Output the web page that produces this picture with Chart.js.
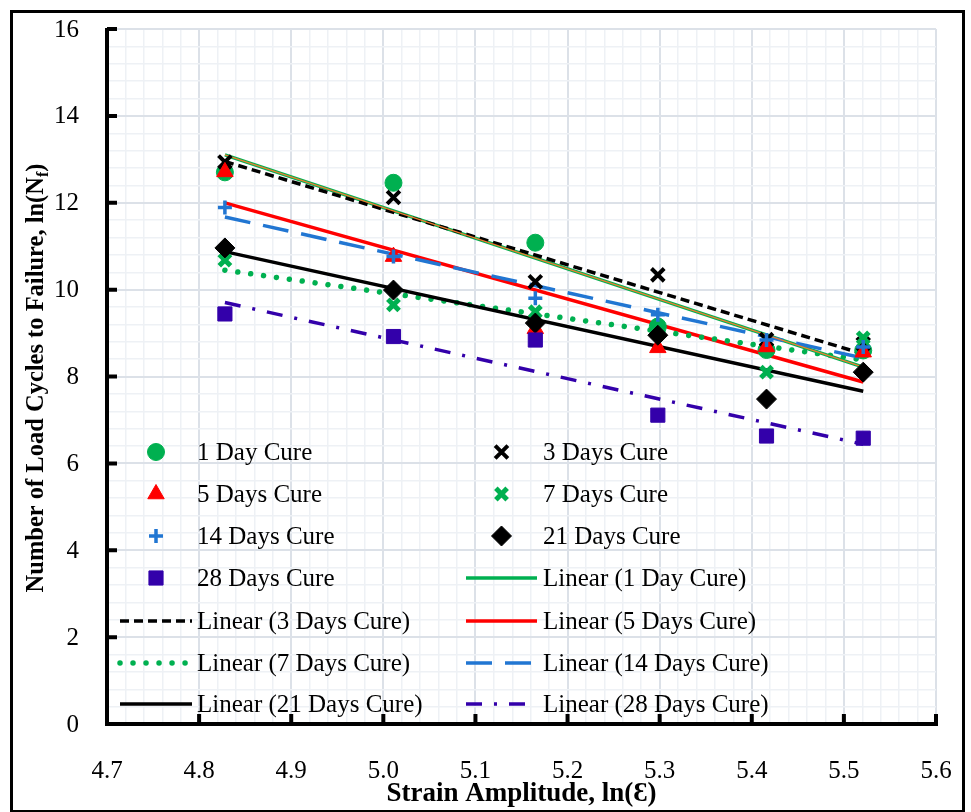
<!DOCTYPE html>
<html>
<head>
<meta charset="utf-8">
<script src="https://cdn.jsdelivr.net/npm/chart.js@4.4.0/dist/chart.umd.min.js"></script>
<style>
  html, body { margin: 0; padding: 0; background: #fff; }
  canvas { display: block; }
</style>
</head>
<body>
<canvas id="fatigue-chart" width="971" height="812"></canvas>
<script>
// ===== Data =====
const strainLn = [4.828, 5.011, 5.165, 5.298, 5.416, 5.521];
const cure1Day  = [12.70, 12.46, 11.08, 9.15, 8.61, 8.60];
const cure3Day  = [12.94, 12.12, 10.18, 10.34, 8.85, 8.75];
const cure5Day  = [12.71, 10.76, 9.10, 8.66, 8.68, 8.56];
const cure7Day  = [10.68, 9.65, 9.49, 9.10, 8.10, 8.89];
const cure14Day = [11.89, 10.76, 9.80, 9.42, 8.84, 8.68];
const cure21Day = [10.96, 9.99, 9.23, 8.95, 7.48, 8.10];
const cure28Day = [9.44, 8.92, 8.84, 7.11, 6.63, 6.58];

const seriesNames = ["1 Day Cure", "3 Days Cure", "5 Days Cure", "7 Days Cure",
                     "14 Days Cure", "21 Days Cure", "28 Days Cure"];
const seriesValues = [cure1Day, cure3Day, cure5Day, cure7Day, cure14Day, cure21Day, cure28Day];

const xTickLabels = [4.7, 4.8, 4.9, 5.0, 5.1, 5.2, 5.3, 5.4, 5.5, 5.6];
const yTickLabels = [0, 2, 4, 6, 8, 10, 12, 14, 16];

// ===== Styles =====
const GREEN = "#00B050", RED = "#FF0000", BLUE = "#2176D2", PURPLE = "#3300AA";
const SERIF = "'Liberation Serif', 'DejaVu Serif', serif";

const markerStyles = [
  { pointStyle: "circle",   radius: 8.5, color: GREEN, borderWidth: 1 },
  { pointStyle: "crossRot", radius: 9,   color: "#000", borderWidth: 4 },
  { pointStyle: "triangle", radius: 9.5, color: RED, borderWidth: 1 },
  { pointStyle: "crossRot", radius: 8,   color: GREEN, borderWidth: 5 },
  { pointStyle: "cross",    radius: 7,   color: BLUE, borderWidth: 3.5 },
  { pointStyle: "rectRot",  radius: 10,  color: "#000", borderWidth: 1 },
  { pointStyle: "rect",     radius: 10,  color: PURPLE, borderWidth: 1 }
];

const lineStyles = [
  { color: GREEN,  width: 3.5, dash: [],             cap: "butt" },
  { color: "#000", width: 3.5, dash: [9, 5],         cap: "butt" },
  { color: RED,    width: 3.5, dash: [],             cap: "butt" },
  { color: GREEN,  width: 5.5, dash: [0.01, 13],     cap: "round" },
  { color: BLUE,   width: 3.5, dash: [26, 13],       cap: "butt" },
  { color: "#000", width: 3.5, dash: [],             cap: "butt" },
  { color: PURPLE, width: 3.5, dash: [16, 12, 3, 12], cap: "butt" }
];

// ===== Helper: least-squares trend line across the data range =====
function fitLine(xs, ys) {
  const n = xs.length;
  const mx = xs.reduce((a, b) => a + b, 0) / n;
  const my = ys.reduce((a, b) => a + b, 0) / n;
  let sxy = 0, sxx = 0;
  for (let i = 0; i < n; i++) {
    sxy += (xs[i] - mx) * (ys[i] - my);
    sxx += (xs[i] - mx) * (xs[i] - mx);
  }
  const slope = sxy / sxx;
  const x0 = xs[0], x1 = xs[n - 1];
  return [{ x: x0, y: my + slope * (x0 - mx) }, { x: x1, y: my + slope * (x1 - mx) }];
}

// ===== Datasets =====
const datasets = [];
seriesNames.forEach((name, i) => {
  const m = markerStyles[i];
  datasets.push({
    label: name,
    data: strainLn.map((x, k) => ({ x, y: seriesValues[i][k] })),
    showLine: false,
    pointStyle: m.pointStyle,
    pointRadius: m.radius,
    pointHoverRadius: m.radius,
    pointBorderWidth: m.borderWidth,
    pointBackgroundColor: m.color,
    pointBorderColor: m.color,
    order: 7 - i
  });
});
seriesNames.forEach((name, i) => {
  const l = lineStyles[i];
  datasets.push({
    label: "Linear (" + name + ")",
    data: fitLine(strainLn, seriesValues[i]),
    showLine: true,
    borderColor: l.color,
    borderWidth: l.width,
    borderDash: l.dash,
    borderCapStyle: l.cap,
    pointRadius: 0,
    fill: false,
    order: 30 - i
  });
});
// thin orange core seen on the 1-day trend line
datasets.push({
  label: "_core",
  data: fitLine(strainLn, cure1Day),
  showLine: true,
  borderColor: "#ED7D31",
  borderWidth: 1.2,
  pointRadius: 0,
  fill: false,
  order: 22
});

// ===== Tick helpers =====
function withMinors(majors, parts) {
  const ticks = [];
  for (let i = 0; i < majors.length; i++) {
    ticks.push({ value: majors[i], major: true });
    if (i < majors.length - 1) {
      const step = (majors[i + 1] - majors[i]) / parts;
      for (let j = 1; j < parts; j++) ticks.push({ value: majors[i] + j * step, major: false });
    }
  }
  return ticks;
}
const isMajorTick = (ctx) => ctx.tick && ctx.tick.major;

// ===== Plugin: frame, axes, tick labels, titles, legend =====
const decorPlugin = {
  id: "decor",
  afterDraw(chart) {
    const ctx = chart.ctx;
    const area = chart.chartArea;
    const xs = chart.scales.x, ys = chart.scales.y;
    ctx.save();

    // outer frame
    ctx.strokeStyle = "#000";
    ctx.lineWidth = 3;
    ctx.strokeRect(11.5, 11.5, 952, 800);

    // axis lines + inward ticks
    ctx.lineWidth = 4;
    ctx.lineCap = "butt";
    ctx.beginPath();
    ctx.moveTo(area.left, area.top - 1);
    ctx.lineTo(area.left, area.bottom + 2);
    ctx.moveTo(area.left - 2, area.bottom);
    ctx.lineTo(area.right + 2, area.bottom);
    yTickLabels.forEach(v => {
      const py = ys.getPixelForValue(v);
      ctx.moveTo(area.left, py);
      ctx.lineTo(area.left + 10, py);
    });
    xTickLabels.forEach(v => {
      const px = xs.getPixelForValue(v);
      ctx.moveTo(px, area.bottom);
      ctx.lineTo(px, area.bottom - 10);
    });
    ctx.stroke();

    // tick labels
    ctx.fillStyle = "#000";
    ctx.font = "25px " + SERIF;
    ctx.textAlign = "right";
    ctx.textBaseline = "middle";
    yTickLabels.forEach(v => ctx.fillText(String(v), area.left - 28, ys.getPixelForValue(v) + 1));
    ctx.textAlign = "center";
    ctx.textBaseline = "alphabetic";
    xTickLabels.forEach(v => ctx.fillText(v.toFixed(1), xs.getPixelForValue(v), 778));

    // x title
    ctx.font = "bold 27px " + SERIF;
    ctx.fillText("Strain Amplitude, ln(\u0190)", (area.left + area.right) / 2, 801);

    // y title with subscript
    ctx.save();
    ctx.translate(43, 378);
    ctx.rotate(-Math.PI / 2);
    const mainText = "Number of Load Cycles to Failure, ln(N";
    const subText = "f";
    const tailText = ")";
    ctx.textAlign = "left";
    ctx.font = "bold 24.5px " + SERIF;
    const w1 = ctx.measureText(mainText).width;
    const w3 = ctx.measureText(tailText).width;
    ctx.font = "bold 16px " + SERIF;
    const w2 = ctx.measureText(subText).width;
    let sx = -(w1 + w2 + w3) / 2;
    ctx.font = "bold 24.5px " + SERIF;
    ctx.fillText(mainText, sx, 0);
    ctx.font = "bold 16px " + SERIF;
    ctx.fillText(subText, sx + w1, 5);
    ctx.font = "bold 24.5px " + SERIF;
    ctx.fillText(tailText, sx + w1 + w2, 0);
    ctx.restore();

    // legend (two columns inside the plot)
    const colLineX = [[120, 192], [466, 537]];
    const colTextX = [197, 543];
    const rowY = [452, 494, 536, 578, 621, 663, 704];
    const items = [];
    seriesNames.forEach((n, i) => items.push({ kind: "m", i, text: n }));
    seriesNames.forEach((n, i) => items.push({ kind: "l", i, text: "Linear (" + n + ")" }));
    ctx.font = "25px " + SERIF;
    ctx.textAlign = "left";
    ctx.textBaseline = "middle";
    items.forEach((it, k) => {
      const col = k % 2, row = Math.floor(k / 2);
      const y = rowY[row];
      const [xa, xb] = colLineX[col];
      if (it.kind === "m") {
        const m = markerStyles[it.i];
        ctx.setLineDash([]);
        ctx.fillStyle = m.color;
        ctx.strokeStyle = m.color;
        ctx.lineWidth = m.borderWidth;
        Chart.helpers.drawPoint(ctx, { pointStyle: m.pointStyle, radius: m.radius, rotation: 0, borderWidth: m.borderWidth }, (xa + xb) / 2, y);
      } else {
        const l = lineStyles[it.i];
        ctx.strokeStyle = l.color;
        ctx.lineWidth = l.width;
        ctx.lineCap = l.cap;
        ctx.setLineDash(l.dash);
        ctx.beginPath();
        ctx.moveTo(xa, y);
        ctx.lineTo(xb, y);
        ctx.stroke();
        ctx.setLineDash([]);
        ctx.lineCap = "butt";
      }
      ctx.fillStyle = "#000";
      ctx.fillText(it.text, colTextX[col], y + 1);
    });

    ctx.restore();
  }
};

// ===== Chart =====
new Chart(document.getElementById("fatigue-chart").getContext("2d"), {
  type: "scatter",
  data: { datasets },
  plugins: [decorPlugin],
  options: {
    responsive: false,
    animation: false,
    devicePixelRatio: 1,
    layout: { autoPadding: false, padding: { top: 29, right: 35, bottom: 0, left: 0 } },
    plugins: { legend: { display: false }, tooltip: { enabled: false } },
    scales: {
      x: {
        type: "linear",
        min: 4.7,
        max: 5.6,
        afterBuildTicks: (scale) => { scale.ticks = withMinors(xTickLabels, 5); },
        afterFit: (scale) => { scale.height = 88; },
        border: { display: false },
        grid: {
          drawTicks: false,
          color: (ctx) => isMajorTick(ctx) ? "#dce1e8" : "#eef1f5",
          lineWidth: (ctx) => isMajorTick(ctx) ? 2 : 1.5
        },
        ticks: { display: false, autoSkip: false, padding: 0 }
      },
      y: {
        type: "linear",
        min: 0,
        max: 16,
        afterBuildTicks: (scale) => { scale.ticks = withMinors(yTickLabels, 5); },
        afterFit: (scale) => { scale.width = 107; },
        border: { display: false },
        grid: {
          drawTicks: false,
          color: (ctx) => isMajorTick(ctx) ? "#dce1e8" : "#eef1f5",
          lineWidth: (ctx) => isMajorTick(ctx) ? 2 : 1.5
        },
        ticks: { display: false, autoSkip: false, padding: 0 }
      }
    }
  }
});
</script>
</body>
</html>
